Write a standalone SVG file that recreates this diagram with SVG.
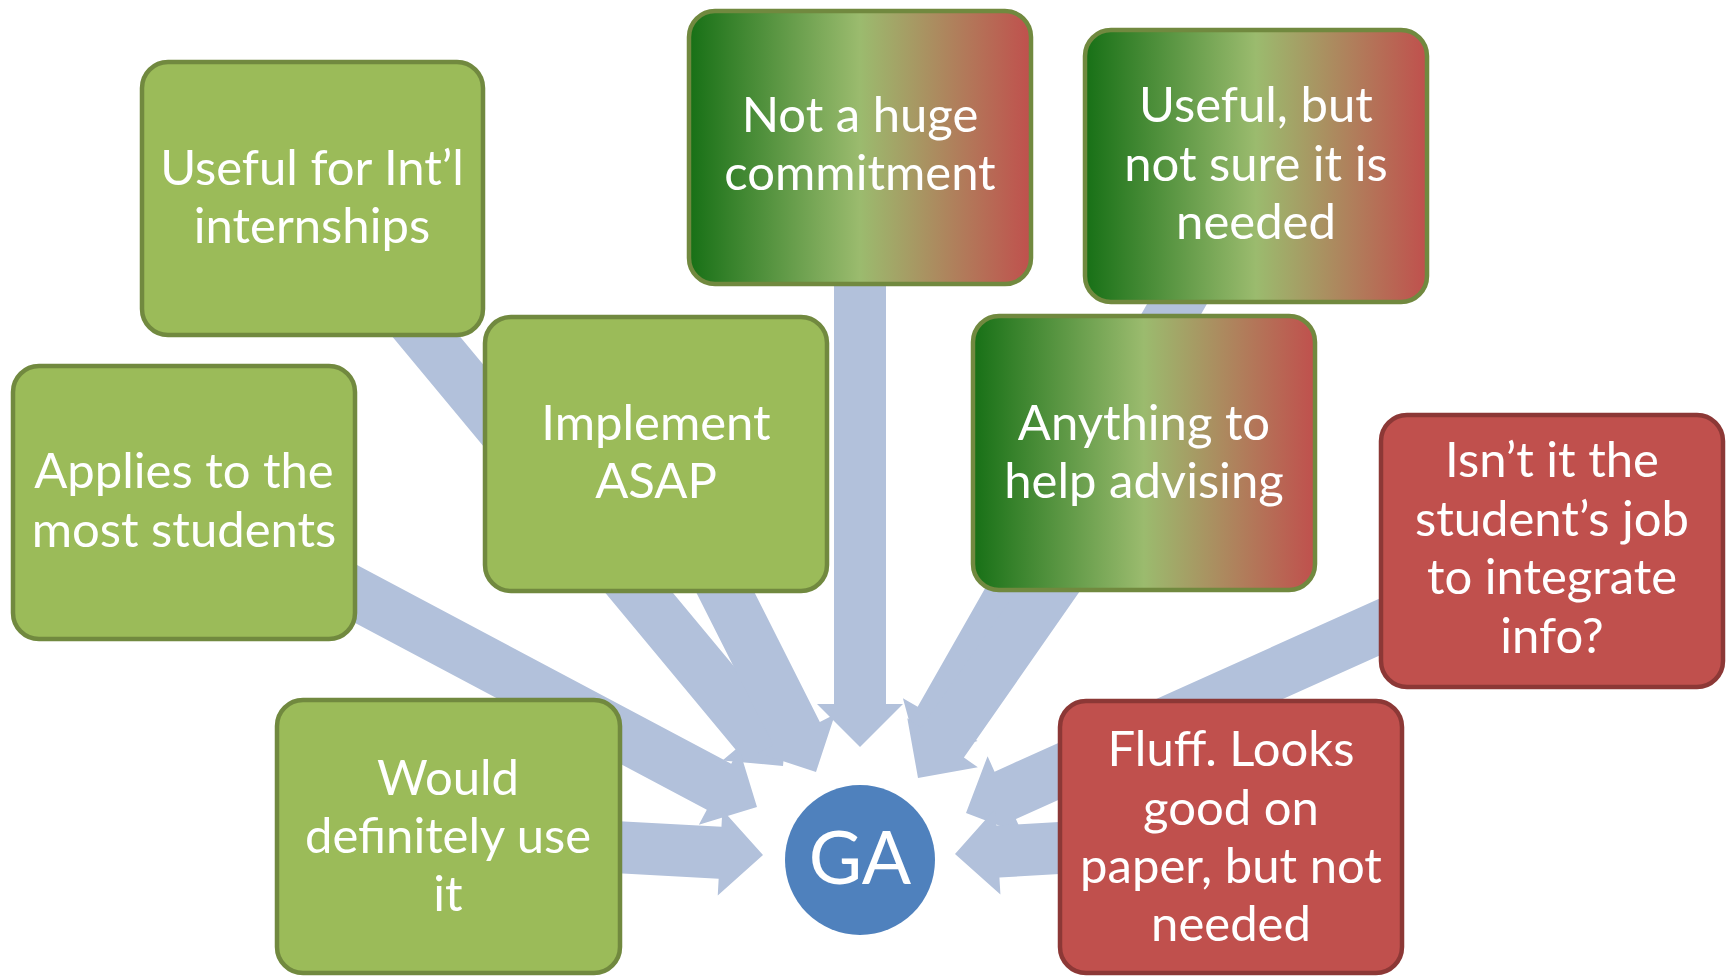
<svg xmlns="http://www.w3.org/2000/svg" width="1726" height="976" viewBox="0 0 1726 976">
<defs>
<linearGradient id="mix" x1="0" y1="0" x2="1" y2="0">
<stop offset="0" stop-color="#177016"/>
<stop offset="0.5" stop-color="#9BBB6E"/>
<stop offset="1" stop-color="#C0504D"/>
</linearGradient>
<style>
.arrow{fill:#B2C1DB}
.green{fill:#9BBB59;stroke:#71893F;stroke-width:4.5}
.red{fill:#C0504D;stroke:#8C3836;stroke-width:4.5}
.mix{fill:url(#mix);stroke:#71893F;stroke-width:4.5}
.lbl{font-family:Lato,"Liberation Sans",sans-serif;font-size:49px;fill:#FFFFFF;text-anchor:middle}
.ga{font-family:Lato,"Liberation Sans",sans-serif;font-size:73px;fill:#FFFFFF;text-anchor:middle}
</style>
</defs>
<rect width="1726" height="976" fill="#FFFFFF"/>
<g id="connectors">
<polygon class="arrow" transform="translate(783 766) rotate(50.27)" points="-739,-26 -43,-26 -43,-43 0,0 -43,43 -43,26 -739,26"/>
<polygon class="arrow" transform="translate(757 807) rotate(27.98)" points="-650,-26 -43,-26 -43,-43 0,0 -43,43 -43,26 -650,26"/>
<polygon class="arrow" transform="translate(816 772) rotate(63.22)" points="-355,-26 -43,-26 -43,-43 0,0 -43,43 -43,26 -355,26"/>
<polygon class="arrow" transform="translate(860 747) rotate(90)" points="-600,-26 -43,-26 -43,-43 0,0 -43,43 -43,26 -600,26"/>
<polygon class="arrow" transform="translate(919 757) rotate(119.66)" points="-679,-26 -43,-26 -43,-43 0,0 -43,43 -43,26 -679,26"/>
<polygon class="arrow" transform="translate(918 778) rotate(124.87)" points="-394,-26 -43,-26 -43,-43 0,0 -43,43 -43,26 -394,26"/>
<polygon class="arrow" transform="translate(966 813) rotate(155.79)" points="-641,-26 -43,-26 -43,-43 0,0 -43,43 -43,26 -641,26"/>
<polygon class="arrow" transform="translate(955 854) rotate(176.69)" points="-278,-26 -43,-26 -43,-43 0,0 -43,43 -43,26 -278,26"/>
<polygon class="arrow" transform="translate(763 855) rotate(3.09)" points="-316,-26 -43,-26 -43,-43 0,0 -43,43 -43,26 -316,26"/>
</g>
<g id="node-intl">
<rect class="green" x="142" y="62" width="341" height="273" rx="26"/>
<text class="lbl" x="312" y="185">Useful for Int’l</text>
<text class="lbl" x="312" y="243">internships</text>
</g>
<g id="node-applies">
<rect class="green" x="13" y="366" width="342" height="273" rx="26"/>
<text class="lbl" x="184" y="488">Applies to the</text>
<text class="lbl" x="184" y="547">most students</text>
</g>
<g id="node-implement">
<rect class="green" x="485" y="317" width="342" height="274" rx="26"/>
<text class="lbl" x="656" y="440">Implement</text>
<text class="lbl" x="656" y="498">ASAP</text>
</g>
<g id="node-commitment">
<rect class="mix" x="689" y="11" width="342" height="273" rx="26"/>
<text class="lbl" x="860" y="132">Not a huge</text>
<text class="lbl" x="860" y="190">commitment</text>
</g>
<g id="node-notsure">
<rect class="mix" x="1085" y="30" width="342" height="272" rx="26"/>
<text class="lbl" x="1256" y="122">Useful, but</text>
<text class="lbl" x="1256" y="181">not sure it is</text>
<text class="lbl" x="1256" y="239">needed</text>
</g>
<g id="node-advising">
<rect class="mix" x="973" y="316" width="342" height="274" rx="26"/>
<text class="lbl" x="1144" y="440">Anything to</text>
<text class="lbl" x="1144" y="498">help advising</text>
</g>
<g id="node-integrate">
<rect class="red" x="1381" y="415" width="342" height="272" rx="26"/>
<text class="lbl" x="1552" y="477">Isn’t it the</text>
<text class="lbl" x="1552" y="536">student’s job</text>
<text class="lbl" x="1552" y="594">to integrate</text>
<text class="lbl" x="1552" y="653">info?</text>
</g>
<g id="node-fluff">
<rect class="red" x="1060" y="701" width="342" height="272" rx="26"/>
<text class="lbl" x="1231" y="766">Fluff. Looks</text>
<text class="lbl" x="1231" y="825">good on</text>
<text class="lbl" x="1231" y="883">paper, but not</text>
<text class="lbl" x="1231" y="941">needed</text>
</g>
<g id="node-woulduse">
<rect class="green" x="277" y="700" width="343" height="273" rx="26"/>
<text class="lbl" x="448" y="795">Would</text>
<text class="lbl" x="448" y="853">definitely use</text>
<text class="lbl" x="448" y="911">it</text>
</g>
<g id="node-ga">
<circle cx="860" cy="860" r="75" fill="#4F81BD"/>
<text class="ga" x="860" y="884">GA</text>
</g>
</svg>
